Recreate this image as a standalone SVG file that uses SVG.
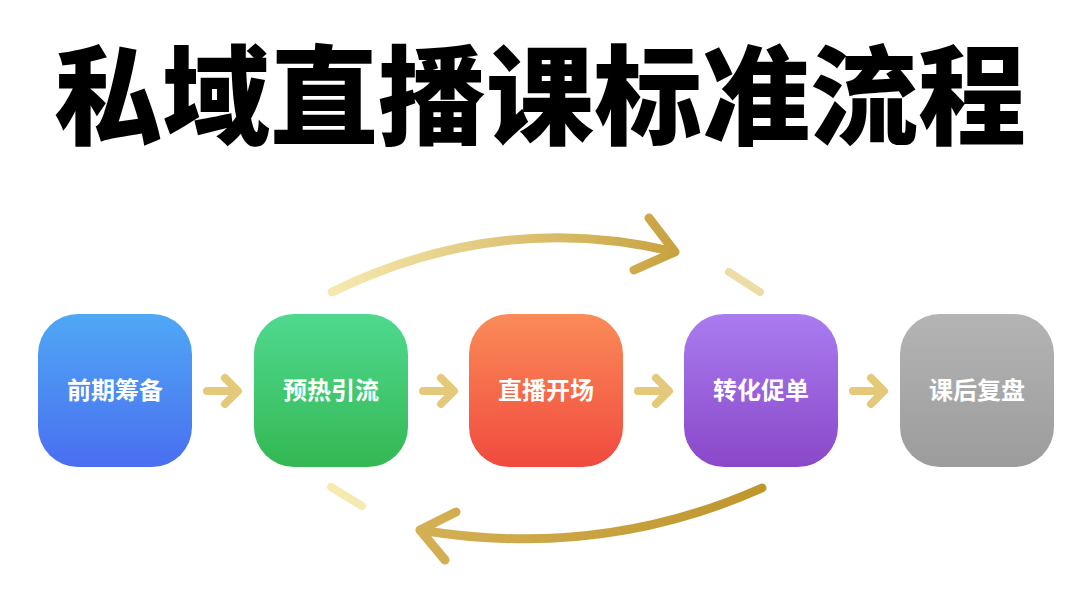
<svg xmlns="http://www.w3.org/2000/svg" width="1086" height="614" viewBox="0 0 1086 614">
<defs>
<linearGradient id="gb" x1="0" y1="0" x2="0" y2="1"><stop offset="0" stop-color="#4fa8f5"/><stop offset="1" stop-color="#4a6ef0"/></linearGradient>
<linearGradient id="gg" x1="0" y1="0" x2="0" y2="1"><stop offset="0" stop-color="#4fd98f"/><stop offset="1" stop-color="#34b853"/></linearGradient>
<linearGradient id="go" x1="0" y1="0" x2="0" y2="1"><stop offset="0" stop-color="#fb8b58"/><stop offset="1" stop-color="#f04a3e"/></linearGradient>
<linearGradient id="gp" x1="0" y1="0" x2="0" y2="1"><stop offset="0" stop-color="#a97cf0"/><stop offset="1" stop-color="#8a48c8"/></linearGradient>
<linearGradient id="ga" x1="0" y1="0" x2="0" y2="1"><stop offset="0" stop-color="#b4b4b4"/><stop offset="1" stop-color="#9c9c9c"/></linearGradient>
<linearGradient id="gt" x1="0" y1="0" x2="1" y2="0"><stop offset="0" stop-color="#f6e9b0"/><stop offset="1" stop-color="#c8a240"/></linearGradient>
<linearGradient id="gd" x1="1" y1="0" x2="0" y2="0"><stop offset="0" stop-color="#bf962c"/><stop offset="1" stop-color="#d4b055"/></linearGradient>
</defs>
<style>
.n text{font-family:"Noto Sans CJK SC",sans-serif;font-weight:700;font-size:24px;fill:#fff;text-anchor:middle}
.c path{fill:none;stroke-linecap:round;stroke-linejoin:round}
.s{stroke:#e4c97a;stroke-width:8}
</style>
<rect width="1086" height="614" fill="#fff"/>
<text x="540" y="136" text-anchor="middle" font-family="'Noto Sans CJK SC',sans-serif" font-weight="900" font-size="108" fill="#000">私域直播课标准流程</text>
<g id="n1" class="n"><rect x="38" y="314" width="154" height="153" rx="40" fill="url(#gb)"/><text x="115" y="399">前期筹备</text></g>
<g id="n2" class="n"><rect x="254" y="314" width="154" height="153" rx="40" fill="url(#gg)"/><text x="331" y="399">预热引流</text></g>
<g id="n3" class="n"><rect x="469" y="314" width="154" height="153" rx="40" fill="url(#go)"/><text x="546" y="399">直播开场</text></g>
<g id="n4" class="n"><rect x="684" y="314" width="154" height="153" rx="40" fill="url(#gp)"/><text x="761" y="399">转化促单</text></g>
<g id="n5" class="n"><rect x="900" y="314" width="154" height="153" rx="40" fill="url(#ga)"/><text x="977" y="399">课后复盘</text></g>
<g id="connectors" class="c">
<path class="s" d="M207 391H237M225 378L238 391L225 404"/>
<path class="s" d="M423 391H453M441 378L454 391L441 404"/>
<path class="s" d="M638 391H668M656 378L669 391L656 404"/>
<path class="s" d="M853 391H883M871 378L884 391L871 404"/>
<path d="M332 292Q500 210 675 252M649 218L675 252L634 270" stroke="url(#gt)" stroke-width="9"/>
<path d="M729 272L760 292" stroke="#ecdda6" stroke-width="8"/>
<path d="M762 488Q600 560 420 530M456 512L420 530L445 560" stroke="url(#gd)" stroke-width="9"/>
<path d="M331 487L362 506" stroke="#f5eab0" stroke-width="8"/>
</g>
</svg>
